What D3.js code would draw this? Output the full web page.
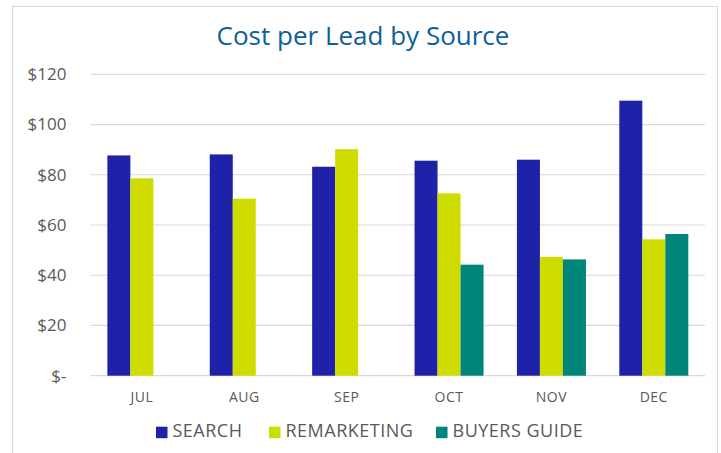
<!DOCTYPE html>
<html>
<head>
<meta charset="utf-8">
<script src="https://cdn.jsdelivr.net/npm/d3@7"></script>
<style>
  body { margin: 0; background: #fff; }
  text { font-family: "Open Sans", Lato, sans-serif; }
</style>
</head>
<body>
<div id="vizcontainer"></div>
<script>
const width = 721,
  height = 453;

// data
const months = ['JUL', 'AUG', 'SEP', 'OCT', 'NOV', 'DEC'];
const seriesNames = ['SEARCH', 'REMARKETING', 'BUYERS GUIDE'];
const search = [87.7, 88.1, 83.2, 85.6, 86.0, 109.5];
const remarketing = [78.6, 70.5, 90.2, 72.6, 47.3, 54.3];
const buyersGuide = [null, null, null, 44.2, 46.3, 56.4];
const yTicks = [0, 20, 40, 60, 80, 100, 120];
const colors = ['#1f22a8', '#cfdc00', '#00857a'];

const values = [search, remarketing, buyersGuide];
const margin = { top: 74.3, right: 16, bottom: 77.3, left: 90.7 };

let viz = d3.select('#vizcontainer')
  .append('svg')
  .attr('width', width)
  .attr('height', height);

// outer frame
viz.append('rect')
  .attr('x', 12.5)
  .attr('y', 6.5)
  .attr('width', 705)
  .attr('height', 452)
  .attr('fill', 'none')
  .attr('stroke', '#d9d9d9');

viz.append('text')
  .attr('x', 363)
  .attr('y', 44.5)
  .attr('text-anchor', 'middle')
  .attr('fill', '#0e5f98')
  .style('font-size', '26px')
  .text('Cost per Lead by Source');

const x = d3.scaleBand()
  .domain(months)
  .range([margin.left, width - margin.right]);

const x1 = d3.scaleBand()
  .domain(seriesNames)
  .range([0, x.bandwidth()])
  .paddingOuter(0.725);

const y = d3.scaleLinear()
  .domain([0, 120])
  .range([height - margin.bottom, margin.top]);

// gridlines
viz.append('g')
  .selectAll('line')
  .data(yTicks)
  .join('line')
  .attr('x1', margin.left)
  .attr('x2', width - margin.right)
  .attr('y1', d => y(d))
  .attr('y2', d => y(d))
  .attr('stroke', '#d9d9d9')
  .attr('stroke-width', 1.2);

viz.append('g')
  .selectAll('text')
  .data(yTicks)
  .join('text')
  .attr('x', 66.5)
  .attr('y', d => y(d))
  .attr('dy', '0.35em')
  .attr('text-anchor', 'end')
  .attr('fill', '#595959')
  .style('font-size', '17px')
  .text(d => d === 0 ? '$-' : '$' + d);

// bars
const flat = [];
values.forEach((vals, si) => {
  vals.forEach((v, mi) => {
    if (v != null) flat.push({ month: months[mi], series: seriesNames[si], value: v, si: si });
  });
});

viz.append('g')
  .selectAll('rect')
  .data(flat)
  .join('rect')
  .attr('x', d => x(d.month) + x1(d.series))
  .attr('width', x1.bandwidth())
  .attr('y', d => y(d.value))
  .attr('height', d => y(0) - y(d.value))
  .attr('fill', d => colors[d.si]);

// month labels
viz.append('g')
  .selectAll('text')
  .data(months)
  .join('text')
  .attr('x', d => x(d) + x.bandwidth() / 2)
  .attr('y', 401.5)
  .attr('text-anchor', 'middle')
  .attr('fill', '#595959')
  .style('font-size', '14px')
  .style('letter-spacing', '0.5px')
  .text(d => d);

// legend
const legendX = [156, 269, 436];
const legend = viz.append('g')
  .selectAll('g')
  .data(seriesNames)
  .join('g')
  .attr('transform', (d, i) => `translate(${legendX[i]},426.7)`);

legend.append('rect')
  .attr('width', 11.5)
  .attr('height', 11.5)
  .attr('fill', (d, i) => colors[i]);

legend.append('text')
  .attr('x', 16.5)
  .attr('y', 10)
  .attr('fill', '#595959')
  .style('font-size', '18px')
  .style('letter-spacing', '0.5px')
  .text(d => d);
</script>
</body>
</html>
